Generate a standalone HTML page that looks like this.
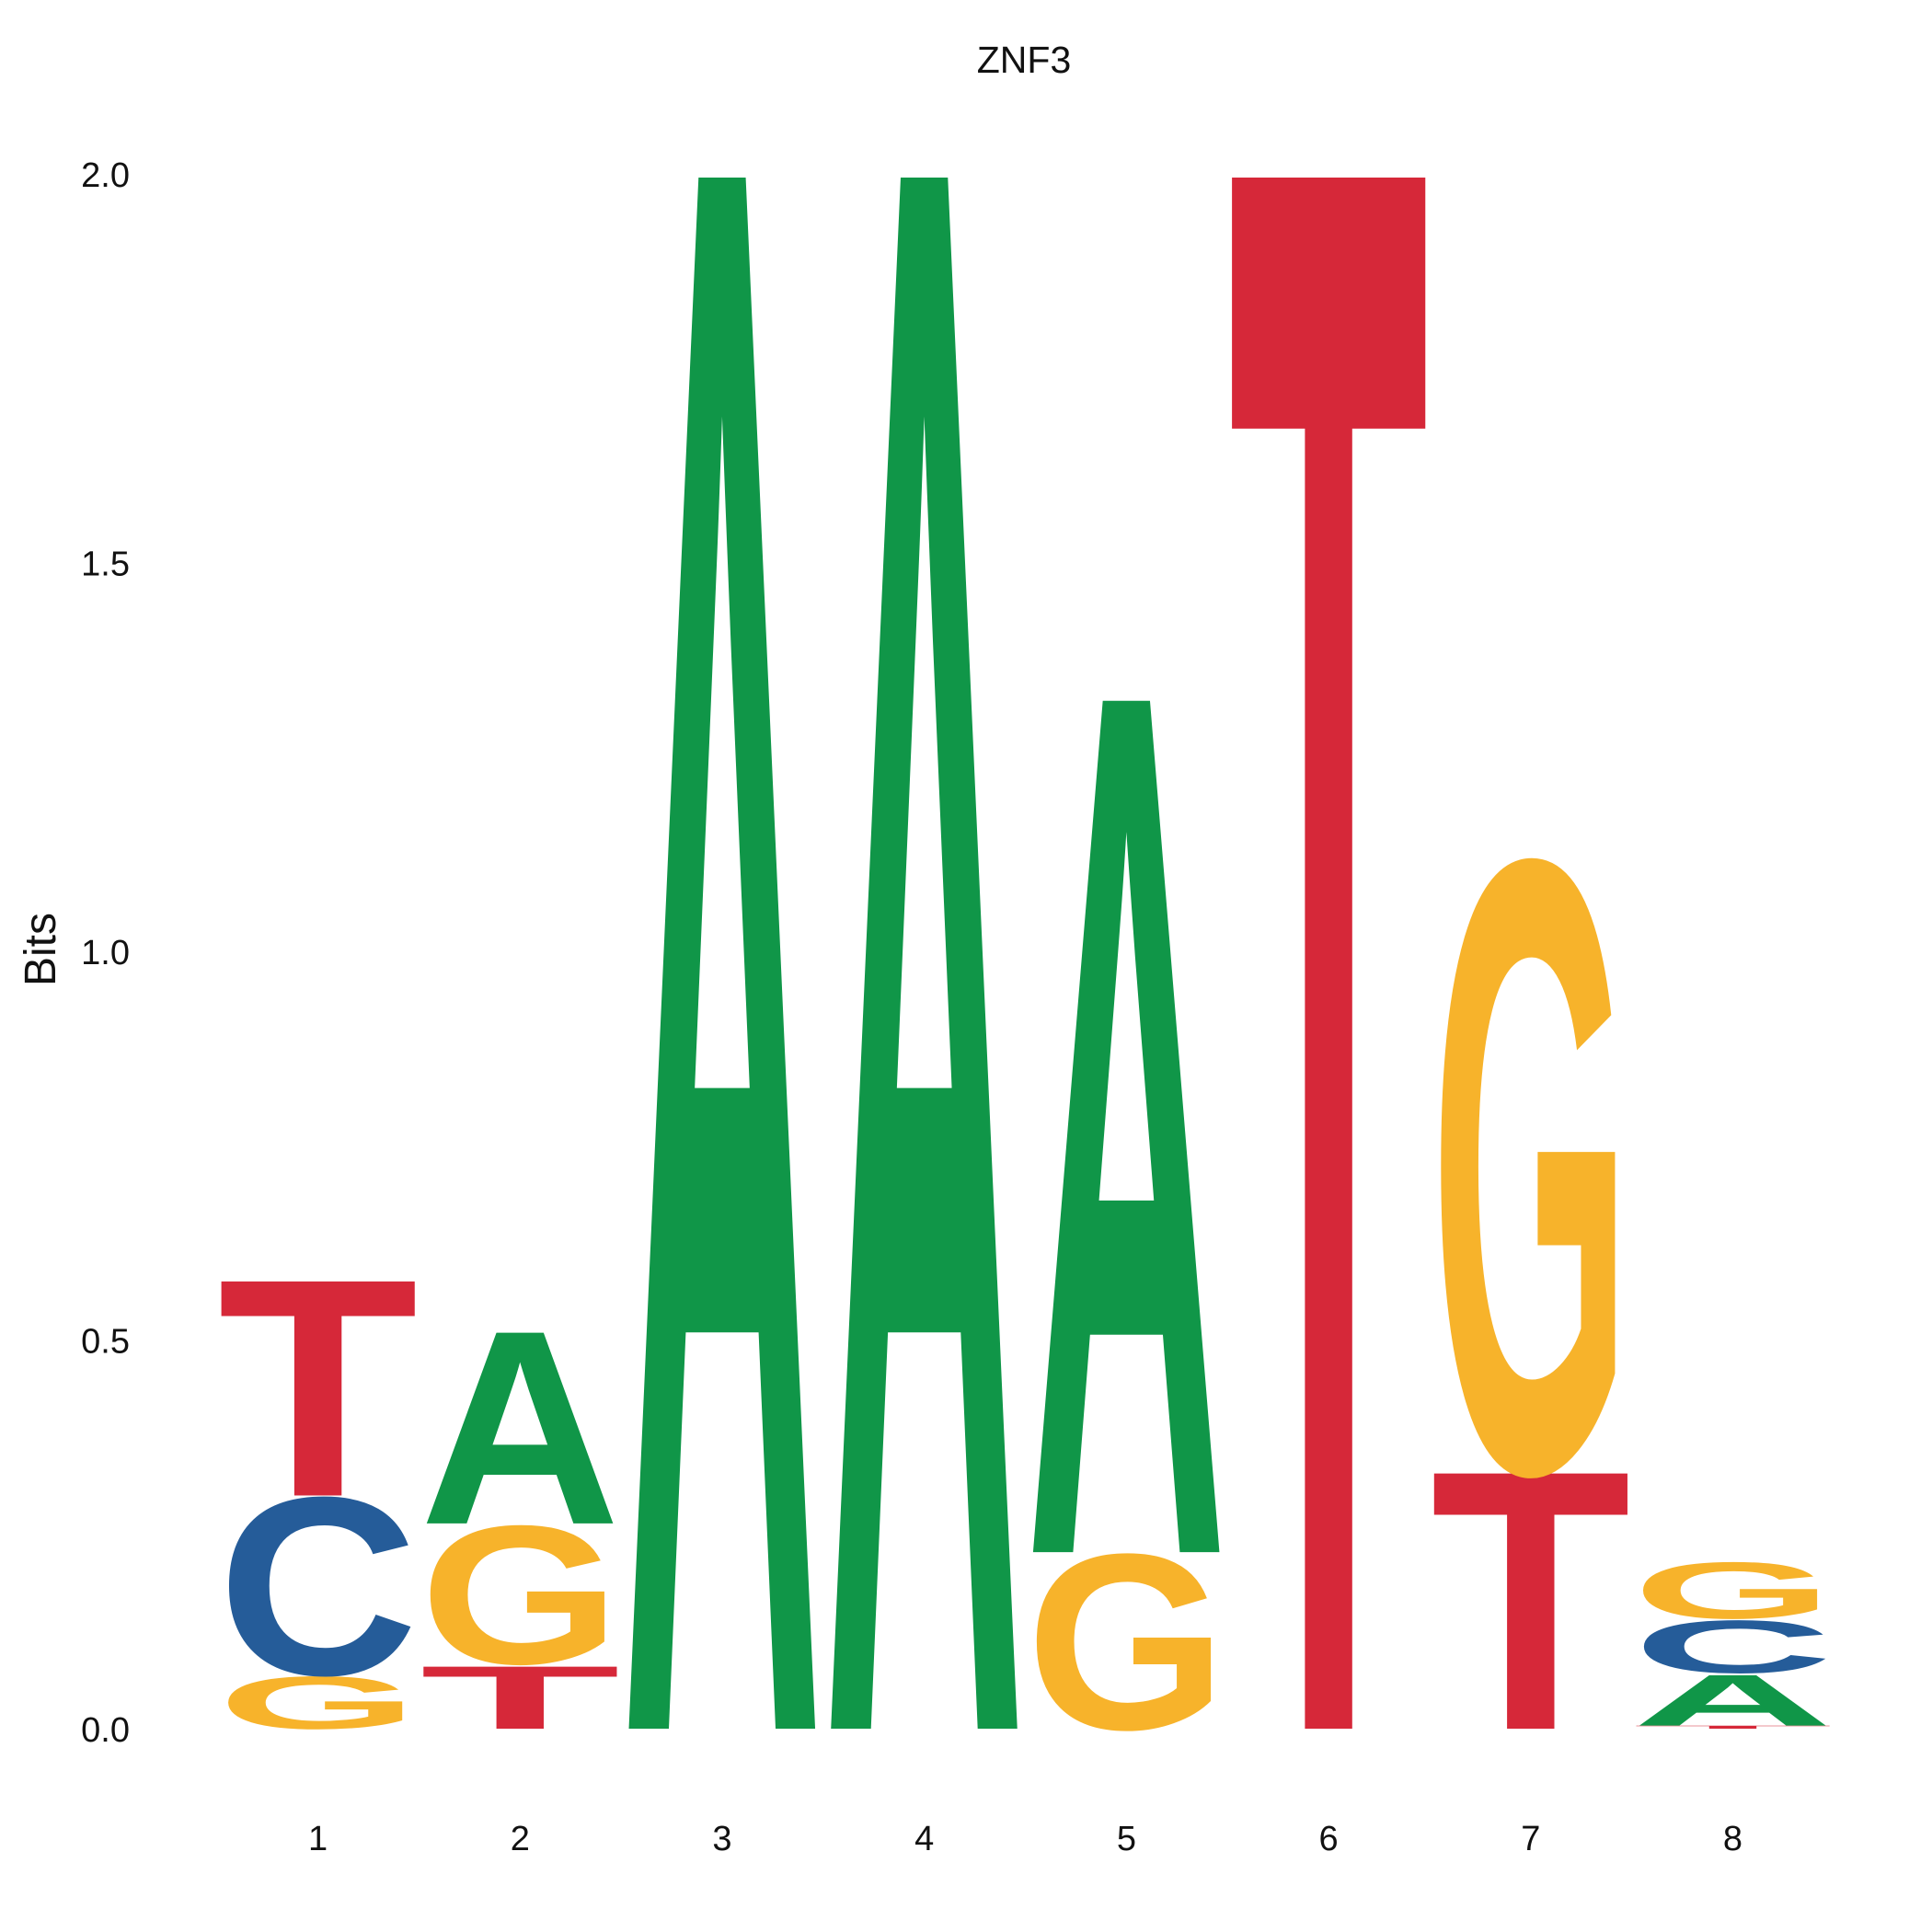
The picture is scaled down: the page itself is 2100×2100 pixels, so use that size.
<!DOCTYPE html>
<html><head><meta charset="utf-8"><style>
html,body{margin:0;padding:0;background:#fff;width:2100px;height:2100px;overflow:hidden}
svg{display:block}
text{font-family:"Liberation Sans",sans-serif}
</style></head><body>
<svg id="chart" width="2100" height="2100" viewBox="0 0 2100 2100" xmlns="http://www.w3.org/2000/svg" overflow="hidden">
<text x="1113" y="79" font-size="41" text-anchor="middle" fill="#111">ZNF3</text>
<text transform="translate(60,1032) rotate(-90)" font-size="48" text-anchor="middle" fill="#111">Bits</text>
<g id="yticks"></g><g id="xticks"></g><g id="letters"></g>
</svg>
<script>
const positions = [1,2,3,4,5,6,7,8];
const bitsA = [0, 0.25, 2.0, 2.0, 1.10, 0, 0, 0.068];
const bitsC = [0.23, 0, 0, 0, 0, 0, 0, 0.07];
const bitsG = [0.07, 0.18, 0, 0, 0.227, 0, 0.78, 0.075];
const bitsT = [0.28, 0.084, 0, 0, 0, 2.0, 0.333, 0.004];
const yTicks = [0, 0.5, 1.0, 1.5, 2.0];
const yTickLabels = ["0.0","0.5","1.0","1.5","2.0"];

const NS='http://www.w3.org/2000/svg';
const y0=1879, pxPerBit=(1879-189)/2;
const yScale=v=>y0-v*pxPerBit;
const xCenter=p=>345.6+(p-1)*219.7;
const letterW=218;
const colors={A:'#109648',C:'#255C99',G:'#F7B32B',T:'#D62839'};

const yt=document.getElementById('yticks');
yTicks.forEach((v,i)=>{
  const t=document.createElementNS(NS,'text');
  
  
  t.setAttribute('x',141);t.setAttribute('y',yScale(v)+14);
  t.setAttribute('font-size','38');t.setAttribute('text-anchor','end');t.setAttribute('fill','#111');
  t.textContent=yTickLabels[i];yt.appendChild(t);
});
const xt=document.getElementById('xticks');
positions.forEach(p=>{
  const t=document.createElementNS(NS,'text');
  
  
  t.setAttribute('x',xCenter(p));t.setAttribute('y',2011);
  t.setAttribute('font-size','38');t.setAttribute('text-anchor','middle');t.setAttribute('fill','#111');
  t.textContent=String(p);xt.appendChild(t);
});
const lg=document.getElementById('letters');
const CAP=68.8;
positions.forEach((p,i)=>{
  const stack=[['A',bitsA[i]],['C',bitsC[i]],['G',bitsG[i]],['T',bitsT[i]]].filter(d=>d[1]>0).sort((a,b)=>a[1]-b[1]);
  let base=0;
  stack.forEach(([L,h])=>{
    const bottom=yScale(base), top=yScale(base+h);
    const hp=bottom-top;
    const gap=Math.min(4,hp*0.05);
    const t=document.createElementNS(NS,'text');
    
    
    t.setAttribute('x',0);t.setAttribute('y',0);
    t.setAttribute('font-size','100');t.setAttribute('font-weight','bold');
    t.setAttribute('textLength',letterW);t.setAttribute('lengthAdjust','spacingAndGlyphs');
    t.setAttribute('fill',colors[L]);
    t.setAttribute('transform','translate('+(xCenter(p)-letterW/2)+','+bottom+') scale(1,'+((hp-gap)/CAP)+')');
    t.textContent=L;lg.appendChild(t);
    base+=h;
  });
});
</script>
</body></html>
